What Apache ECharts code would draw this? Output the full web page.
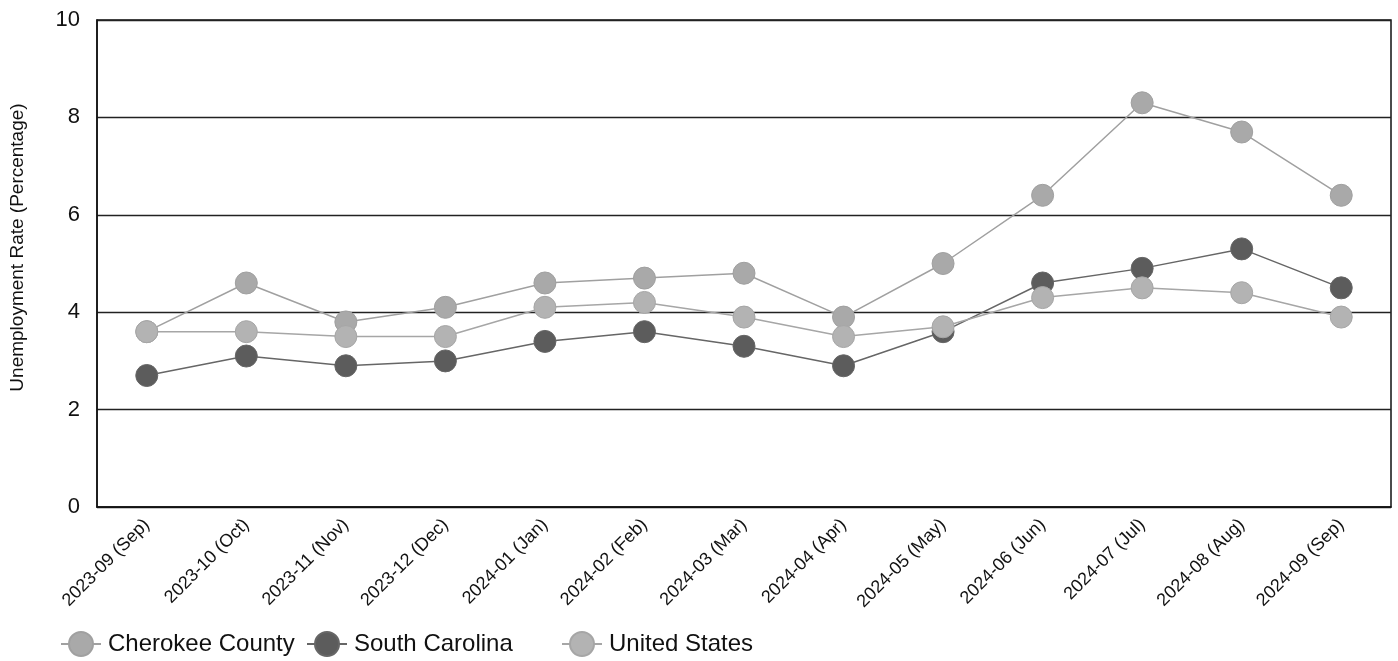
<!DOCTYPE html>
<html>
<head>
<meta charset="utf-8">
<script src="https://cdn.jsdelivr.net/npm/echarts@6/dist/echarts.min.js"></script>
<style>html,body{margin:0;padding:0;background:#fff;}#c{width:1398px;height:661px;}</style>
</head>
<body>
<div id="c"></div>
<script>
const categories = ['2023-09 (Sep)','2023-10 (Oct)','2023-11 (Nov)','2023-12 (Dec)','2024-01 (Jan)','2024-02 (Feb)','2024-03 (Mar)','2024-04 (Apr)','2024-05 (May)','2024-06 (Jun)','2024-07 (Jul)','2024-08 (Aug)','2024-09 (Sep)'];
const cherokee = [3.6, 4.6, 3.8, 4.1, 4.6, 4.7, 4.8, 3.9, 5.0, 6.4, 8.3, 7.7, 6.4];
const southCarolina = [2.7, 3.1, 2.9, 3.0, 3.4, 3.6, 3.3, 2.9, 3.6, 4.6, 4.9, 5.3, 4.5];
const unitedStates = [3.6, 3.6, 3.5, 3.5, 4.1, 4.2, 3.9, 3.5, 3.7, 4.3, 4.5, 4.4, 3.9];
const yTicks = [0, 2, 4, 6, 8, 10];
const seriesNames = ['Cherokee County', 'South Carolina', 'United States'];

const chart = echarts.init(document.getElementById('c'));
const font = 'Liberation Sans, Arial, sans-serif';
function mk(name, data, color, line) {
  return {
    name, type: 'line', data,
    symbol: 'circle', symbolSize: 22,
    itemStyle: { color: color, borderColor: line, borderWidth: 1 },
    lineStyle: { color: line, width: 1.5 },
    emphasis: { disabled: true },
    animation: false
  };
}
function lg(name, left) {
  return {
    left: left, top: 631, padding: 0, itemWidth: 40, itemHeight: 30, itemGap: 0,
    textStyle: { fontFamily: font, fontSize: 24, color: '#111', padding: [0, 0, 0, 2] },
    data: [name]
  };
}
chart.setOption({
  animation: false,
  grid: { left: 97, right: 7, top: 20, bottom: 154, show: true, borderColor: '#111', borderWidth: 1.5, backgroundColor: '#fff' },
  legend: [lg(seriesNames[0], 60), lg(seriesNames[1], 306), lg(seriesNames[2], 561)],
  xAxis: {
    type: 'category', data: categories, boundaryGap: true,
    axisLine: { show: true, lineStyle: { color: '#111', width: 1.5 } },
    axisTick: { show: false },
    axisLabel: { rotate: 45, fontFamily: font, fontSize: 18, color: '#111', margin: 15, interval: 0 }
  },
  yAxis: {
    type: 'value', min: yTicks[0], max: yTicks[yTicks.length - 1], interval: 2,
    name: 'Unemployment Rate (Percentage)', nameLocation: 'middle', nameGap: 70,
    nameTextStyle: { fontFamily: font, fontSize: 19, color: '#111', padding: [0, 0, 0, 32] },
    axisLine: { show: true, lineStyle: { color: '#111', width: 1.5 } },
    axisTick: { show: false },
    axisLabel: { fontFamily: font, fontSize: 22, color: '#111', margin: 17 },
    splitLine: { show: true, lineStyle: { color: '#222', width: 1.3 } }
  },
  series: [
    mk(seriesNames[0], cherokee, '#a9a9a9', '#a0a0a0'),
    mk(seriesNames[1], southCarolina, '#5c5c5c', '#666666'),
    mk(seriesNames[2], unitedStates, '#b3b3b3', '#a6a6a6')
  ]
});
</script>
</body>
</html>
